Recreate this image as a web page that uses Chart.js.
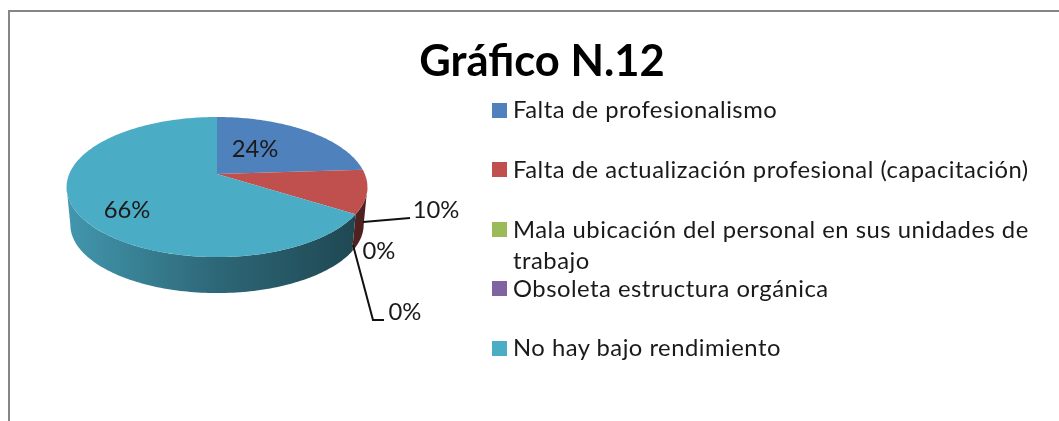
<!DOCTYPE html>
<html lang="es">
<head>
<meta charset="utf-8">
<title>Gráfico N.12</title>
<script src="https://cdn.jsdelivr.net/npm/chart.js@4/dist/chart.umd.js"></script>
<style>
html,body{margin:0;padding:0;background:#fff;width:1059px;height:421px;overflow:hidden}
#frame{position:absolute;left:8px;top:10px;width:1200px;height:600px;border:2.5px solid #868686;box-sizing:border-box}
canvas{position:absolute;left:0;top:0}
.lg{position:absolute;left:513px;width:530px;font:23.8px/31px Lato,sans-serif;letter-spacing:.5px;color:#1a1a1a}
.sw{position:absolute;left:492px;width:15px;height:15px}
</style>
</head>
<body>
<div id="frame"></div>
<canvas id="c" width="1059" height="421"></canvas>
<div id="legend"></div>
<script>
const chartTitle = 'Gráfico N.12';
const categories = [
  'Falta de profesionalismo',
  'Falta de actualización profesional (capacitación)',
  'Mala ubicación del personal en sus unidades de trabajo',
  'Obsoleta estructura orgánica',
  'No hay bajo rendimiento'
];
const values = [24, 10, 0, 0, 66];
const colors = ['#4f81bd', '#c0504d', '#9bbb59', '#8064a2', '#4bacc6'];

// layout of the pseudo-3D projection and annotations
const P = {X0:217, Y0:174, A:67.6, B:147.8, k:0.1857, s:0.975, dy:38.1};
const labelPos = [[255,149],[436,210],[379,251],[405,312],[127,210]];
const leaders = [null, [[363,222],[410,218]], null, [[353,245],[373,320],[384,320]], null];
const legendTops = [94, 154, 214, 273, 332];
const swatchTops = [103, 162, 222, 281, 341];

function project(a, bottom) {
  const u = Math.cos(a), v = Math.sin(a), w = 1 - P.k * v;
  let x = P.X0 + P.B * u / w, y = P.Y0 + P.A * v / w;
  if (bottom) { x = P.X0 + P.s * (x - P.X0); y = P.Y0 + P.dy + P.s * (y - P.Y0); }
  return [x, y];
}
function arcPoints(start, end, bottom) {
  const n = Math.max(2, Math.ceil((end - start) / 0.02)), pts = [];
  for (let i = 0; i <= n; i++) pts.push(project(start + (end - start) * i / n, bottom));
  return pts;
}
function shade(hex, f) {
  const n = parseInt(hex.slice(1), 16);
  return `rgb(${Math.round((n >> 16) * f)},${Math.round(((n >> 8) & 255) * f)},${Math.round((n & 255) * f)})`;
}

// Slices keep the angles computed by Chart.js; only their shape is projected.
Chart.ArcElement.prototype.draw = function (ctx) {
  const {startAngle, endAngle} = this;
  if (endAngle - startAngle <= 0) return;
  ctx.save();
  ctx.beginPath();
  ctx.moveTo(P.X0, P.Y0);
  arcPoints(startAngle, endAngle, false).forEach(p => ctx.lineTo(p[0], p[1]));
  ctx.closePath();
  ctx.fillStyle = this.options.backgroundColor;
  ctx.fill();
  ctx.restore();
};

// The rim is only visible between the two tangent angles of the projected ellipse.
const rimStart = Math.asin(P.k), rimEnd = Math.PI - Math.asin(P.k);
const walls = {
  id: 'walls',
  beforeDatasetsDraw(chart) {
    const ctx = chart.ctx;
    ctx.save();
    chart.getDatasetMeta(0).data.forEach((arc, i) => {
      const a0 = Math.max(arc.startAngle, rimStart), a1 = Math.min(arc.endAngle, rimEnd);
      if (a1 <= a0) return;
      const top = arcPoints(a0, a1, false);
      const bot = arcPoints(a0, a1, true).reverse();
      const g = ctx.createLinearGradient(66, 0, 368, 0);
      g.addColorStop(0, shade(colors[i], 0.88));
      g.addColorStop(0.5, shade(colors[i], 0.6));
      g.addColorStop(1, shade(colors[i], 0.4));
      ctx.beginPath();
      top.concat(bot).forEach((p, j) => j ? ctx.lineTo(p[0], p[1]) : ctx.moveTo(p[0], p[1]));
      ctx.closePath();
      ctx.fillStyle = g;
      ctx.fill();
    });
    ctx.restore();
  }
};

const labelsPlugin = {
  id: 'sliceLabels',
  afterDatasetsDraw(chart) {
    const ctx = chart.ctx;
    const total = values.reduce((a, b) => a + b, 0);
    ctx.save();
    ctx.strokeStyle = '#111';
    ctx.lineWidth = 2;
    leaders.forEach(l => {
      if (!l) return;
      ctx.beginPath();
      l.forEach((p, j) => j ? ctx.lineTo(p[0], p[1]) : ctx.moveTo(p[0], p[1]));
      ctx.stroke();
    });
    ctx.fillStyle = '#1a1a1a';
    ctx.font = '23.8px Lato, sans-serif';
    ctx.textAlign = 'center';
    ctx.textBaseline = 'middle';
    values.forEach((v, i) => {
      ctx.fillText(Math.round(v / total * 100) + '%', labelPos[i][0], labelPos[i][1]);
    });
    ctx.restore();
  }
};

new Chart(document.getElementById('c'), {
  type: 'pie',
  data: {
    labels: categories,
    datasets: [{data: values, backgroundColor: colors, borderWidth: 0}]
  },
  options: {
    responsive: false,
    animation: false,
    layout: {padding: {left: 25, top: 36}},
    plugins: {
      legend: {display: false},
      tooltip: {enabled: false},
      title: {
        display: true,
        text: chartTitle,
        fullSize: false,
        color: '#000',
        font: {family: 'Lato, sans-serif', size: 43.5, weight: 'bold'},
        padding: 0
      }
    }
  },
  plugins: [walls, labelsPlugin]
});

const legend = document.getElementById('legend');
categories.forEach((name, i) => {
  const sw = document.createElement('div');
  sw.className = 'sw';
  sw.style.top = swatchTops[i] + 'px';
  sw.style.background = colors[i];
  legend.appendChild(sw);
  const t = document.createElement('div');
  t.className = 'lg';
  t.style.top = legendTops[i] + 'px';
  t.textContent = name;
  legend.appendChild(t);
});
</script>
</body>
</html>
